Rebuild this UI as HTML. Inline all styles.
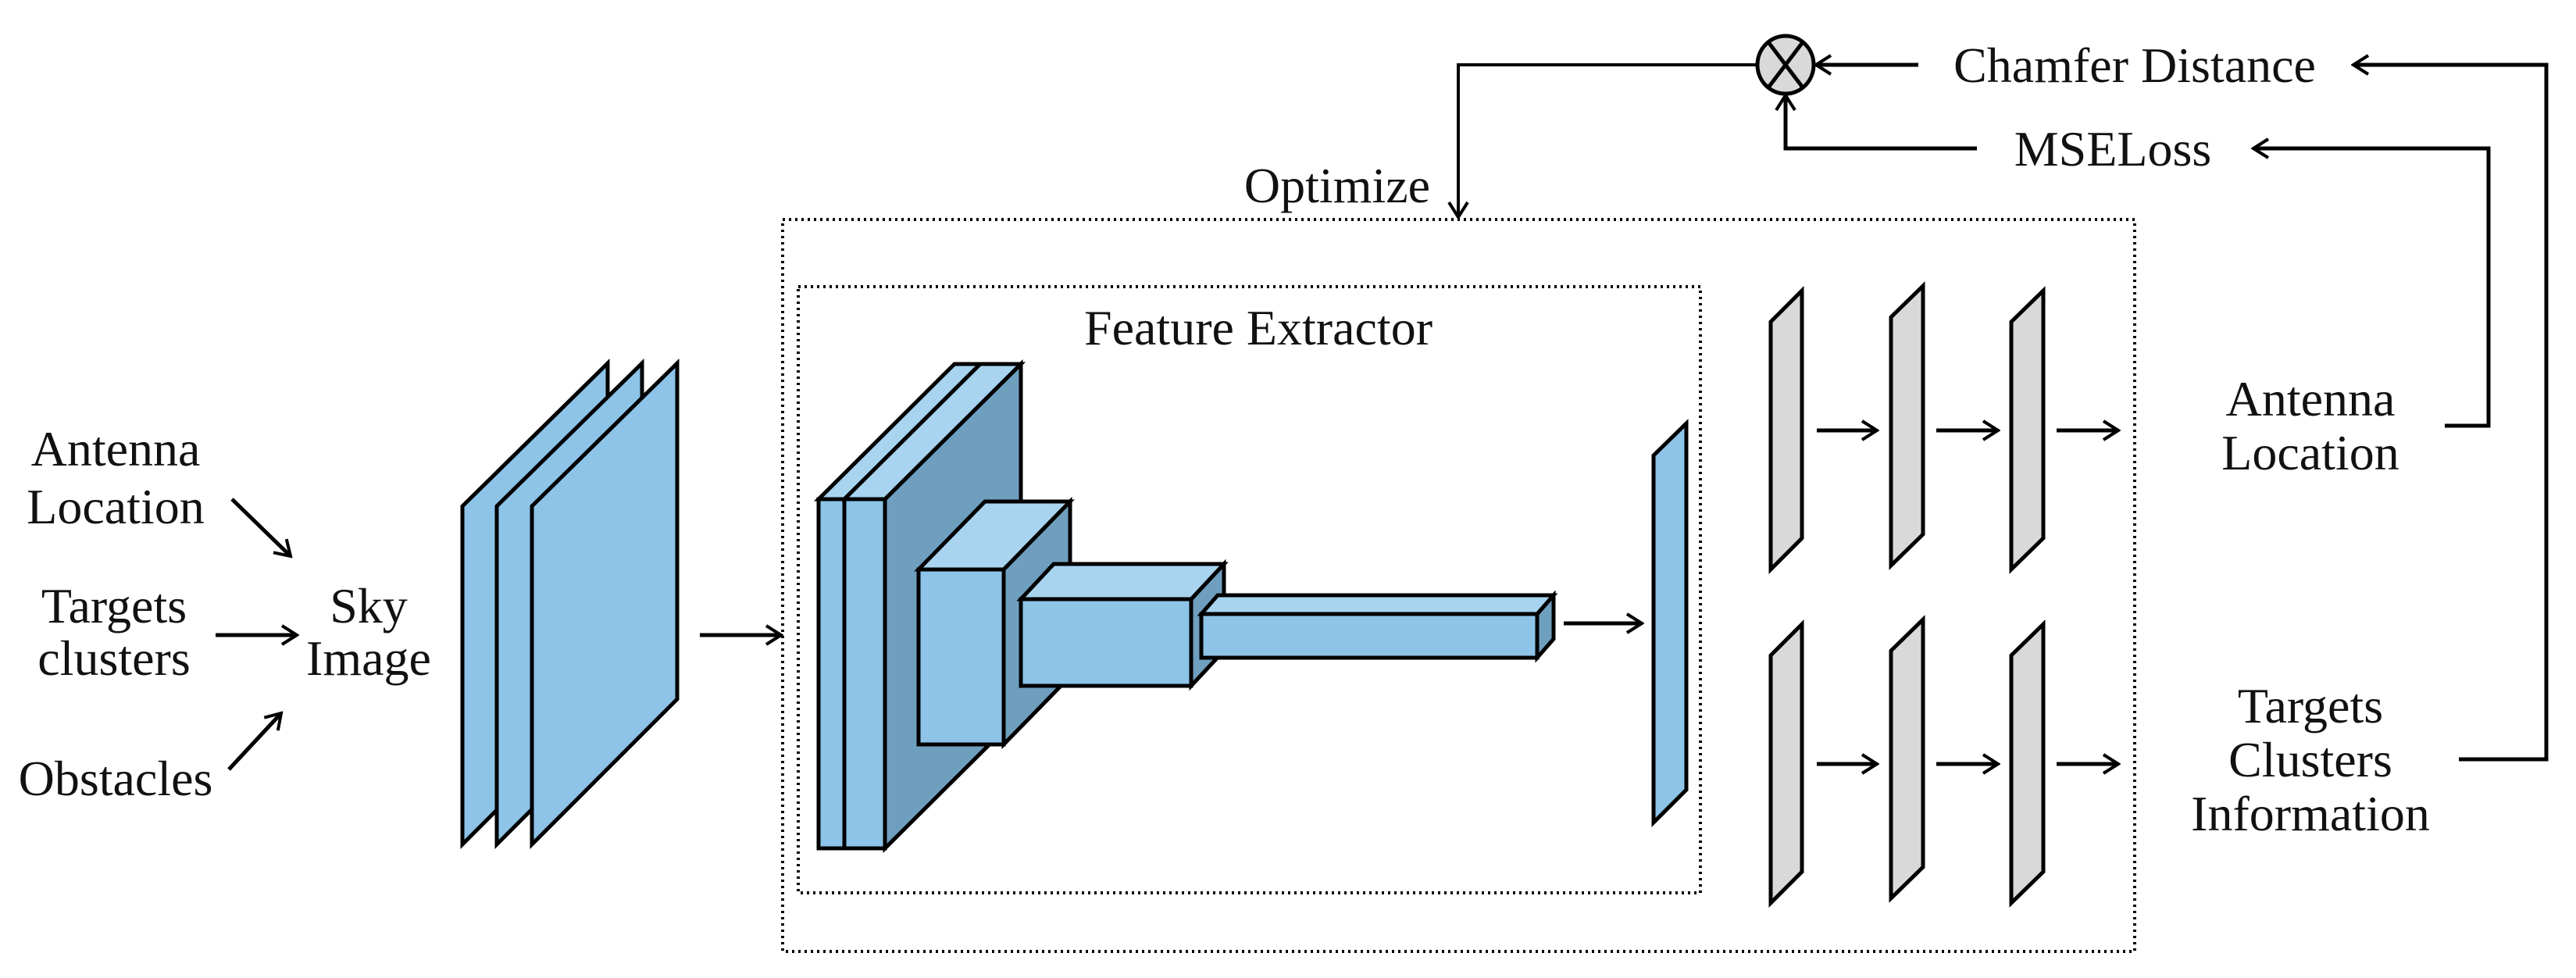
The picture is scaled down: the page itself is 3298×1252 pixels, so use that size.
<!DOCTYPE html>
<html><head><meta charset="utf-8"><style>
html,body{margin:0;padding:0;background:#fff;}
svg{display:block;}
text{font-family:"Liberation Serif",serif;font-size:64px;fill:#111;}
</style></head><body>
<svg width="3298" height="1252" viewBox="0 0 3298 1252" xmlns="http://www.w3.org/2000/svg">
<defs>
<marker id="b" viewBox="0 0 30 30" refX="27" refY="15" markerWidth="30" markerHeight="30" markerUnits="userSpaceOnUse" orient="auto">
<path d="M8,3 L27,15 L8,27" fill="none" stroke="#000" stroke-width="4"/>
</marker>
</defs>
<text x="148" y="596" text-anchor="middle">Antenna</text>
<text x="148" y="670" text-anchor="middle">Location</text>
<text x="146" y="797" text-anchor="middle">Targets</text>
<text x="146" y="864" text-anchor="middle">clusters</text>
<text x="148" y="1018" text-anchor="middle">Obstacles</text>
<text x="472" y="797" text-anchor="middle">Sky</text>
<text x="472" y="864" text-anchor="middle">Image</text>
<g stroke="#000" stroke-width="5" fill="none">
<line x1="297" y1="639" x2="372" y2="712" marker-end="url(#b)"/>
<line x1="276" y1="813" x2="380" y2="813" marker-end="url(#b)"/>
<line x1="293" y1="985" x2="360" y2="913" marker-end="url(#b)"/>
<line x1="896" y1="813" x2="1000" y2="813" marker-end="url(#b)"/>
</g>
<g stroke="#000" stroke-width="5" fill="#8DC4E8" stroke-linejoin="miter">
<polygon points="592,648 778,465 778,895 592,1081"/>
<polygon points="636,648 822,465 822,895 636,1081"/>
<polygon points="681,648 867,465 867,895 681,1081"/>
</g>
<rect x="1002" y="281" width="1731" height="937" fill="none" stroke="#000" stroke-width="4" stroke-dasharray="3,5"/>
<rect x="1022" y="367" width="1155" height="776" fill="none" stroke="#000" stroke-width="4" stroke-dasharray="3,5"/>
<text x="1611" y="441" text-anchor="middle">Feature Extractor</text>
<text x="1712" y="259" text-anchor="middle">Optimize</text>
<g stroke="#000" stroke-width="5" stroke-linejoin="miter">
<polygon points="1133,639 1307,466 1307,913 1133,1086" fill="#6F9FBF"/>
<polygon points="1048,639 1081,639 1255,466 1222,466" fill="#A8D4F0"/>
<polygon points="1081,639 1133,639 1307,466 1255,466" fill="#A8D4F0"/>
<rect x="1048" y="639" width="33" height="447" fill="#8DC4E8"/>
<rect x="1081" y="639" width="52" height="447" fill="#8DC4E8"/>
<polygon points="1285,729 1370,642 1370,866 1285,953" fill="#6F9FBF"/>
<polygon points="1176,729 1285,729 1370,642 1261,642" fill="#A8D4F0"/>
<rect x="1176" y="729" width="109" height="224" fill="#8DC4E8"/>
<polygon points="1525,767 1567,722 1567,833 1525,878" fill="#6F9FBF"/>
<polygon points="1307,767 1525,767 1567,722 1349,722" fill="#A8D4F0"/>
<rect x="1307" y="767" width="218" height="111" fill="#8DC4E8"/>
<polygon points="1968,786 1989,762 1989,818 1968,842" fill="#6F9FBF"/>
<polygon points="1538,786 1968,786 1989,762 1559,762" fill="#A8D4F0"/>
<rect x="1538" y="786" width="430" height="56" fill="#8DC4E8"/>
<polygon points="2117,583 2159,542 2159,1011 2117,1053" fill="#8DC4E8"/>
</g>
<line x1="2002" y1="798" x2="2102" y2="798" stroke="#000" stroke-width="5" marker-end="url(#b)"/>
<g stroke="#000" stroke-width="5" fill="#D9D9D9">
<polygon points="2267,412 2307,372 2307,689 2267,729"/>
<polygon points="2421,406 2462,366 2462,684 2421,724"/>
<polygon points="2575,412 2616,372 2616,689 2575,729"/>
<polygon points="2267,839 2307,799 2307,1116 2267,1156"/>
<polygon points="2421,833 2462,793 2462,1110 2421,1150"/>
<polygon points="2575,839 2616,799 2616,1116 2575,1156"/>
</g>
<g stroke="#000" stroke-width="5" fill="none">
<line x1="2326" y1="551" x2="2403" y2="551" marker-end="url(#b)"/>
<line x1="2479" y1="551" x2="2558" y2="551" marker-end="url(#b)"/>
<line x1="2633" y1="551" x2="2712" y2="551" marker-end="url(#b)"/>
<line x1="2326" y1="978" x2="2403" y2="978" marker-end="url(#b)"/>
<line x1="2479" y1="978" x2="2558" y2="978" marker-end="url(#b)"/>
<line x1="2633" y1="978" x2="2712" y2="978" marker-end="url(#b)"/>
</g>
<text x="2958" y="532" text-anchor="middle">Antenna</text>
<text x="2958" y="601" text-anchor="middle">Location</text>
<text x="2958" y="925" text-anchor="middle">Targets</text>
<text x="2958" y="994" text-anchor="middle">Clusters</text>
<text x="2958" y="1063" text-anchor="middle">Information</text>
<text x="2733" y="105" text-anchor="middle">Chamfer Distance</text>
<text x="2705" y="212" text-anchor="middle">MSELoss</text>
<g stroke="#000" stroke-width="5" fill="none">
<polyline points="3130,545 3186,545 3186,190 2885,190" marker-end="url(#b)"/>
<polyline points="3148,972 3260,972 3260,83 3013,83" marker-end="url(#b)"/>
<line x1="2456" y1="83" x2="2325" y2="83" marker-end="url(#b)"/>
<polyline points="2531,190 2286,190 2286,122" marker-end="url(#b)"/>
</g>
<polyline points="2249,83 1867,83 1867,278" stroke="#000" stroke-width="4" fill="none" marker-end="url(#b)"/>
<g stroke="#000" stroke-width="5">
<ellipse cx="2286" cy="83" rx="36" ry="37" fill="#D9D9D9"/>
<line x1="2264" y1="54" x2="2308" y2="112"/>
<line x1="2308" y1="54" x2="2264" y2="112"/>
</g>
</svg>
</body></html>
